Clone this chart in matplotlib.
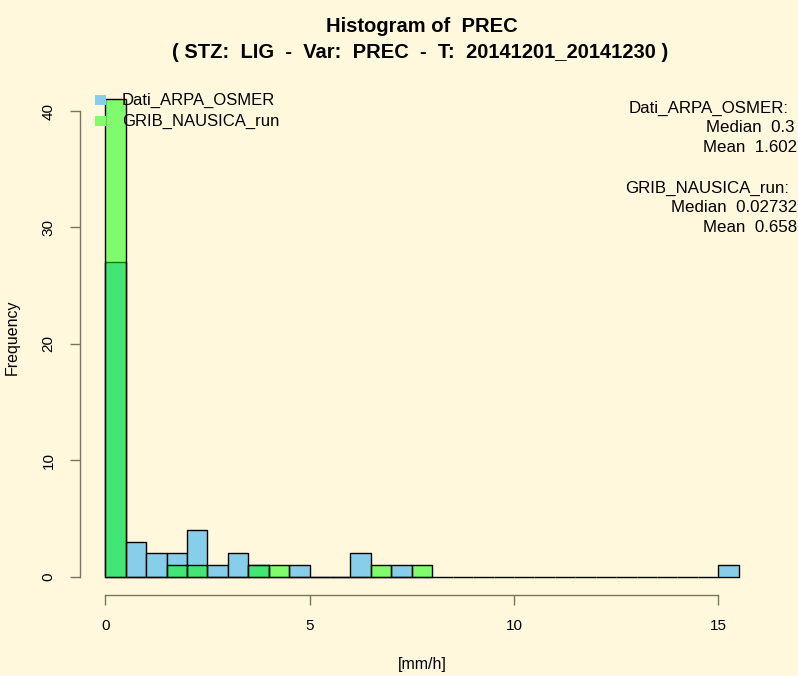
import numpy as np
import matplotlib
matplotlib.use("Agg")
import matplotlib.pyplot as plt

# histogram counts, bins of 0.5 mm/h starting at 0
bin_width = 0.5
dati_counts = [27, 3, 2, 2, 4, 1, 2, 1, 0, 1, 0, 0, 2, 0, 1, 0,
               0, 0, 0, 0, 0, 0, 0, 0, 0, 0, 0, 0, 0, 0, 1]
grib_counts = [41, 0, 0, 1, 1, 0, 0, 1, 1, 0, 0, 0, 0, 1, 0, 1]

labels = ["Dati_ARPA_OSMER", "GRIB_NAUSICA_run"]
stats = [("Median", "0.3", "Mean", "1.602"),
         ("Median", "0.02732", "Mean", "0.658")]

x_ticks = [0, 5, 10, 15]
y_ticks = [0, 10, 20, 30, 40]

BG = "#FFF8DC"
AXC = "#7F7262"
BLUE = "#87CEEB"
GREEN = (0.0, 1.0, 0.0, 0.5)

plt.rcParams["font.family"] = ["Liberation Sans", "DejaVu Sans"]

W, H = 798, 676
fig = plt.figure(figsize=(W / 100, H / 100), dpi=100, facecolor=BG)

# plot region in pixels
left, right, top, bottom = 80, 764, 80, 595
ax = fig.add_axes([left / W, 1 - bottom / H, (right - left) / W, (bottom - top) / H])
ax.set_facecolor(BG)

edges_d = np.arange(len(dati_counts)) * bin_width
edges_g = np.arange(len(grib_counts)) * bin_width
ax.bar(edges_d, dati_counts, width=bin_width, align="edge",
       color=BLUE, edgecolor="black", linewidth=1.0)
ax.bar(edges_g, grib_counts, width=bin_width, align="edge",
       color=GREEN, edgecolor="black", linewidth=1.0)

# R style extended ranges
ax.set_xlim(-0.62, 16.12)
y0_px = 576.5
px_per_y = (y0_px - 111.0) / 40
ax.set_ylim(-(bottom - y0_px) / px_per_y, (y0_px - top) / px_per_y)

for s in ["top", "right"]:
    ax.spines[s].set_visible(False)
ax.spines["left"].set_bounds(0, 40)
ax.spines["bottom"].set_bounds(0, 15)
for s in ["left", "bottom"]:
    ax.spines[s].set_color(AXC)
    ax.spines[s].set_linewidth(1.0)

ax.set_xticks(x_ticks)
ax.set_yticks(y_ticks)
ax.tick_params(axis="both", colors=AXC, length=7.5, width=1.0, labelsize=11,
               labelcolor="black")
ax.tick_params(axis="x", pad=10)
ax.tick_params(axis="y", pad=10)
for lab in ax.get_yticklabels():
    lab.set_rotation(90)
    lab.set_va("center")

ax.set_xlabel("[mm/h]", fontsize=11.5, labelpad=17)
ax.set_ylabel("Frequency", fontsize=11.5, labelpad=16)

title_font = ["Liberation Sans Narrow", "Liberation Sans", "DejaVu Sans"]
fig.text(422 / W, 1 - 27 / H, "Histogram of  PREC", ha="center", va="center",
         fontsize=14.5, fontweight="bold", family=title_font)
fig.text(420 / W, 1 - 52 / H,
         "( STZ:  LIG  -  Var:  PREC  -  T:  20141201_20141230 )",
         ha="center", va="center", fontsize=14.5, fontweight="bold",
         family=title_font)

# legend
for i, (lab, col) in enumerate(zip(labels, [BLUE, (0.5, 0.99, 0.43)])):
    y = 100 + i * 21
    fig.patches.append(plt.Rectangle((95 / W, 1 - (y + 5) / H), 11 / W, 10 / H,
                                     transform=fig.transFigure, facecolor=col,
                                     edgecolor="none"))
    fig.text(122 / W, 1 - y / H, lab, ha="left", va="center", fontsize=12)

# stats text (right edges as in the original layout)
lines = [labels[0] + ":", f"{stats[0][0]}  {stats[0][1]}", f"{stats[0][2]}  {stats[0][3]}",
         "",
         labels[1] + ":", f"{stats[1][0]}  {stats[1][1]}", f"{stats[1][2]}  {stats[1][3]}"]
right_px = [789, 794, 797, 0, 789, 797, 797]
for i, t in enumerate(lines):
    if t:
        fig.text(right_px[i] / W, 1 - (108 + i * 20) / H, t, ha="right",
                 va="center", fontsize=12.2)

fig.savefig("out.png", dpi=100, facecolor=BG)
